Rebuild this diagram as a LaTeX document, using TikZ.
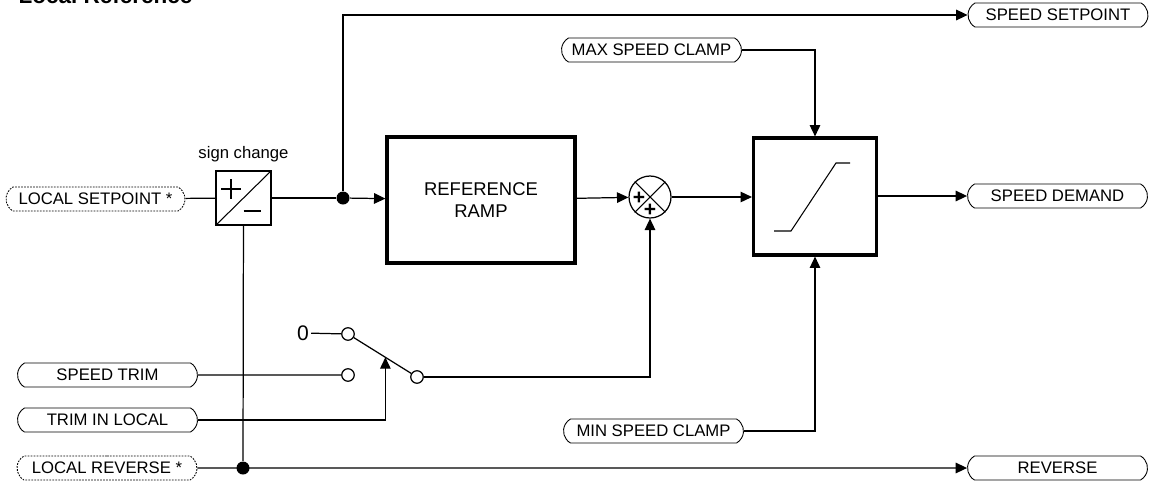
\documentclass[tikz,border=0pt]{standalone}
\usepackage{fontspec}
\setmainfont{Liberation Sans}
\usetikzlibrary{arrows.meta,positioning,shapes.misc}

\begin{document}
\begin{tikzpicture}[x=0.02cm,y=-0.02cm,>={Triangle[length=6.5pt,width=6pt]},line width=0.7pt,
 font=\fontsize{9.5}{11}\selectfont,
 pill/.style={draw,line width=0.5pt,rounded rectangle,rounded rectangle arc length=120,minimum width=3.6cm,minimum height=0.48cm,inner sep=0pt},
 inpill/.style={pill,dashed,dash pattern=on 1pt off 0.7pt},
 block/.style={draw,line width=1.8pt,inner sep=0pt},
 contact/.style={draw,circle,line width=0.7pt,minimum size=0.25cm,inner sep=0pt},
 joint/.style={fill,circle,minimum size=0.26cm,inner sep=0pt}]
\useasboundingbox (0,0) rectangle (1151,487);
\node[anchor=base west,font=\bfseries\fontsize{12.8}{14}\selectfont,inner sep=0pt] (title) at (18,3) {Local Reference};
% inputs
\node[inpill,minimum width=3.58cm] (lsp) at (95.5,199) {LOCAL SETPOINT *};
\node[pill] (strim) at (107.5,375) {SPEED TRIM};
\node[pill] (tlocal) at (107.5,420) {TRIM IN LOCAL};
\node[inpill] (lrev) at (107,468) {LOCAL REVERSE *};
\node[pill] (maxc) at (651.5,50) {MAX SPEED CLAMP};
\node[pill] (minc) at (653.5,431) {MIN SPEED CLAMP};
% outputs
\node[pill] (ssp) at (1058,15) {SPEED SETPOINT};
\node[pill] (sdem) at (1057.5,196) {SPEED DEMAND};
\node[pill] (rev) at (1057.5,468) {REVERSE};
% sign change
\node[draw,line width=0.7pt,minimum width=1.1cm,minimum height=1.08cm,inner sep=0pt] (sgn) at (243.5,198) {};
\node[above=1pt of sgn] (sgnlbl) {sign change};
\draw[line width=0.6pt] (sgn.south west) -- (sgn.north east);
\draw[line width=0.8pt] ([shift={(-22.5,-9)}]sgn.center) -- ++(20,0) ([shift={(-12.5,-19)}]sgn.center) -- ++(0,20);
\draw[line width=0.8pt] ([shift={(0,13)}]sgn.center) -- ++(17,0);
% ramp, sum, clamp
\node[block,minimum width=3.76cm,minimum height=2.52cm,font=\fontsize{10.5}{13}\selectfont,align=center] (ramp) at (481,200) {REFERENCE\\RAMP};
\node[draw,circle,line width=0.7pt,minimum size=0.84cm,inner sep=0pt] (sum) at (650,197) {};
\draw[line width=0.6pt] (sum.north east) -- (sum.south west) (sum.north west) -- (sum.south east);
\node[font=\fontsize{12}{12}\selectfont\bfseries,inner sep=0pt] at (639,198) {+};
\node[font=\fontsize{12}{12}\selectfont\bfseries,inner sep=0pt] at (650,210) {+};
\node[block,minimum width=2.46cm,minimum height=2.34cm] (clamp) at (815,196.5) {};
\draw[line width=0.6pt] ([shift={(-41,34.5)}]clamp.center) -- ++(17,0) -- ++(45,-68) -- ++(14,0);
% switch
\node[font=\fontsize{12}{14}\selectfont,inner sep=1pt] (zero) at (303,333) {0};
\node[contact] (c0) at (348,334) {};
\node[contact] (c1) at (348,375) {};
\node[contact] (c2) at (417,377) {};
\draw (zero) -- (c0);
\draw (c0) -- coordinate[pos=0.55] (lev) (c2);
% connections
\draw (lsp) -- (sgn);
\node[joint] (dot1) at (343,198) {};
\node[joint] (dot2) at (243,468) {};
\draw (sgn) -- (dot1);
\draw[->] (dot1) -- (ramp);
\draw[->] (dot1) |- (ssp);
\draw[->] (ramp) -- (sum);
\draw[->] (sum) -- (clamp.west |- sum);
\draw[->] (clamp.east |- sdem) -- (sdem);
\draw[->] (maxc) -| (clamp);
\draw[->] (minc) -| (clamp);
\draw (sgn) -- (dot2);
\draw[->] (lrev) -- (rev);
\draw (strim) -- (c1);
\draw[->] (tlocal) -| (lev);
\draw[->] (c2) -| (sum);
\end{tikzpicture}
\end{document}
